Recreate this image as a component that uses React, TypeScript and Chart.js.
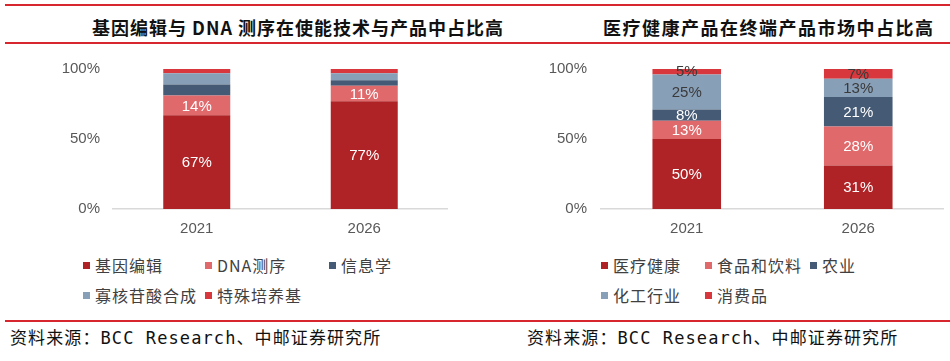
import React, { useEffect, useRef } from "react";
import { Chart, registerables } from "chart.js";

Chart.register(...registerables);

// ---------- data ----------
const years = ["2021", "2026"];
const yTickValues = [0, 50, 100];

const leftTitle = "基因编辑与 DNA 测序在使能技术与产品中占比高";
const leftSeriesNames = ["基因编辑", "DNA测序", "信息学", "寡核苷酸合成", "特殊培养基"];
const geneEditing = [67, 77];
const dnaSequencing = [14, 11];
const informatics = [8, 4];
const oligoSynthesis = [8, 5];
const specialMedia = [3, 3];

const rightTitle = "医疗健康产品在终端产品市场中占比高";
const rightSeriesNames = ["医疗健康", "食品和饮料", "农业", "化工行业", "消费品"];
const healthcare = [50, 31];
const foodBeverage = [13, 28];
const agriculture = [8, 21];
const chemicals = [25, 13];
const consumer = [5, 7];

const sourceText = "资料来源：BCC Research、中邮证券研究所";

const palette = ["#AF2327", "#E0696C", "#455A74", "#889FB8", "#D8383D"];

// ---------- plugin: labels in the middle of each segment ----------
const segmentLabels = {
  id: "segmentLabels",
  afterDatasetsDraw(chart: any) {
    const ctx = chart.ctx;
    chart.data.datasets.forEach((ds: any, i: number) => {
      if (!ds.showLabel) return;
      const meta = chart.getDatasetMeta(i);
      if (meta.hidden) return;
      meta.data.forEach((bar: any, j: number) => {
        const v = ds.data[j];
        const p = bar.getProps(["x", "y", "base"], true);
        ctx.save();
        ctx.fillStyle = ds.labelColor;
        ctx.font = "15px 'Liberation Sans', Arial, sans-serif";
        ctx.textAlign = "center";
        ctx.textBaseline = "middle";
        ctx.fillText(v + "%", p.x, (p.y + p.base) / 2 + 1);
        ctx.restore();
      });
    });
  },
};

type DS = { label: string; data: number[]; color: string; showLabel: boolean; labelColor: string };

function StackedBars(props: {
  left: number;
  top: number;
  width: number;
  height: number;
  yAxisWidth: number;
  tickPad: number;
  series: DS[];
}) {
  const ref = useRef<HTMLCanvasElement>(null);
  useEffect(() => {
    const chart = new Chart(ref.current as HTMLCanvasElement, {
      type: "bar",
      data: {
        labels: years,
        datasets: props.series.map((s) => ({
          label: s.label,
          data: s.data,
          backgroundColor: s.color,
          borderWidth: 0,
          barPercentage: 0.4,
          categoryPercentage: 1,
          showLabel: s.showLabel,
          labelColor: s.labelColor,
        })) as any,
      },
      options: {
        responsive: false,
        animation: false,
        devicePixelRatio: 1,
        layout: { padding: 0 },
        plugins: { legend: { display: false }, tooltip: { enabled: false } },
        scales: {
          x: {
            stacked: true,
            grid: { display: false, drawTicks: false },
            border: { display: true, color: "#D9D9D9", width: 1.5 },
            ticks: {
              color: "#595959",
              font: { family: "'Liberation Sans', Arial, sans-serif", size: 15 },
              padding: 11,
            },
            afterFit: (s: any) => {
              s.height = 30;
            },
          },
          y: {
            stacked: true,
            min: 0,
            max: 100,
            grid: { display: false, drawTicks: false },
            border: { display: false },
            afterBuildTicks: (s: any) => {
              s.ticks = yTickValues.map((v) => ({ value: v }));
            },
            ticks: {
              color: "#595959",
              font: { family: "'Liberation Sans', Arial, sans-serif", size: 15 },
              padding: props.tickPad,
              callback: (v: any) => v + "%",
            },
            afterFit: (s: any) => {
              s.width = props.yAxisWidth;
            },
          },
        },
      },
      plugins: [segmentLabels],
    });
    return () => chart.destroy();
  }, []);
  return (
    <div style={{ position: "absolute", left: props.left, top: props.top, width: props.width, height: props.height }}>
      <canvas
        ref={ref}
        width={props.width}
        height={props.height}
        style={{ width: props.width, height: props.height, display: "block" }}
      />
    </div>
  );
}

function Legend(props: { names: string[]; cols: number[]; top: number }) {
  return (
    <>
      {props.names.map((n, i) => {
        const col = i % 3;
        const row = Math.floor(i / 3);
        return (
          <div
            key={n}
            style={{
              position: "absolute",
              left: props.cols[col],
              top: props.top + row * 30 - 10,
              height: 20,
              display: "flex",
              alignItems: "center",
              whiteSpace: "nowrap",
            }}
          >
            <div style={{ width: 7, height: 7, background: palette[i], marginRight: 5 }} />
            <span
              style={{
                fontFamily: "'Noto Sans CJK SC', sans-serif",
                fontSize: 16,
                lineHeight: "20px",
                color: "#404040",
                letterSpacing: 1,
              }}
            >
              {n}
            </span>
          </div>
        );
      })}
    </>
  );
}

const redLine = "#D7262D";

export default function App() {
  const leftData = [geneEditing, dnaSequencing, informatics, oligoSynthesis, specialMedia];
  const rightData = [healthcare, foodBeverage, agriculture, chemicals, consumer];
  const leftSeries: DS[] = leftSeriesNames.map((n, i) => ({
    label: n,
    data: leftData[i],
    color: palette[i],
    showLabel: i < 2,
    labelColor: "#FFFFFF",
  }));
  const rightSeries: DS[] = rightSeriesNames.map((n, i) => ({
    label: n,
    data: rightData[i],
    color: palette[i],
    showLabel: true,
    labelColor: i < 3 ? "#FFFFFF" : "#3A3A3A",
  }));

  const titleStyle: React.CSSProperties = {
    position: "absolute",
    top: 16,
    height: 22,
    lineHeight: "22px",
    fontFamily: "'Noto Sans CJK SC', sans-serif",
    fontWeight: 700,
    fontSize: 18,
    color: "#111",
    whiteSpace: "nowrap",
  };
  const sourceStyle: React.CSSProperties = {
    position: "absolute",
    top: 328,
    height: 20,
    lineHeight: "20px",
    fontFamily: "'DejaVu Sans Mono', 'Noto Sans CJK SC', monospace",
    fontSize: 17,
    color: "#111",
    letterSpacing: 1.1,
    whiteSpace: "nowrap",
  };

  return (
    <div
      style={{
        position: "absolute",
        left: 0,
        top: 0,
        width: 950,
        height: 361,
        background: "#FFFFFF",
        overflow: "hidden",
      }}
    >
      <div style={{ position: "absolute", left: 5, top: 4, width: 945, height: 2, background: redLine }} />
      <div style={{ position: "absolute", left: 5, top: 42, width: 945, height: 1.5, background: redLine }} />
      <div style={{ ...titleStyle, left: 92, letterSpacing: 1 }}>{leftTitle}</div>
      <div style={{ ...titleStyle, left: 603, letterSpacing: 1.5 }}>{rightTitle}</div>

      <StackedBars left={40} top={47} width={408} height={192} yAxisWidth={73} tickPad={13} series={leftSeries} />
      <StackedBars left={530} top={46} width={414} height={193} yAxisWidth={71} tickPad={14} series={rightSeries} />

      <Legend names={leftSeriesNames} cols={[83, 205, 329]} top={265} />
      <Legend names={rightSeriesNames} cols={[601, 705, 810]} top={265} />

      <div style={{ position: "absolute", left: 5, top: 320, width: 945, height: 1.5, background: redLine }} />
      <div style={{ ...sourceStyle, left: 10 }}>{sourceText}</div>
      <div style={{ ...sourceStyle, left: 527 }}>{sourceText}</div>
    </div>
  );
}
